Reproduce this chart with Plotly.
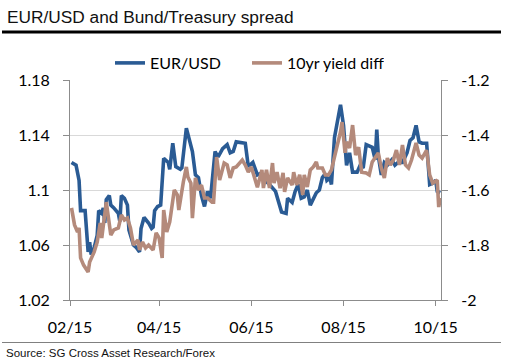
import plotly.graph_objects as go

# ---- data ----
eur_dates = [
    "2015-02-02", "2015-02-05", "2015-02-07", "2015-02-08", "2015-02-11", "2015-02-13",
    "2015-02-14", "2015-02-15", "2015-02-17", "2015-02-19", "2015-02-20", "2015-02-22",
    "2015-02-23", "2015-02-24", "2015-02-25", "2015-02-27", "2015-02-28", "2015-03-02",
    "2015-03-05", "2015-03-06", "2015-03-07", "2015-03-09", "2015-03-11", "2015-03-12",
    "2015-03-15", "2015-03-17", "2015-03-19", "2015-03-20", "2015-03-22", "2015-03-25",
    "2015-03-27", "2015-03-28", "2015-03-29", "2015-03-31", "2015-04-02", "2015-04-04",
    "2015-04-07", "2015-04-08", "2015-04-10", "2015-04-12", "2015-04-15", "2015-04-16",
    "2015-04-19", "2015-04-23", "2015-04-25", "2015-04-27", "2015-04-29", "2015-05-01",
    "2015-05-03", "2015-05-05", "2015-05-08", "2015-05-10", "2015-05-13", "2015-05-16",
    "2015-05-18", "2015-05-20", "2015-05-22", "2015-05-26", "2015-05-28", "2015-05-30",
    "2015-06-02", "2015-06-05", "2015-06-07", "2015-06-10", "2015-06-13", "2015-06-17",
    "2015-06-19", "2015-06-21", "2015-06-24", "2015-06-25", "2015-06-28", "2015-06-30",
    "2015-07-02", "2015-07-04", "2015-07-06", "2015-07-08", "2015-07-10", "2015-07-12",
    "2015-07-14", "2015-07-16", "2015-07-18", "2015-07-20", "2015-07-21", "2015-07-23",
    "2015-07-24", "2015-07-26", "2015-07-28", "2015-07-30", "2015-08-01", "2015-08-02",
    "2015-08-03", "2015-08-05", "2015-08-07", "2015-08-10", "2015-08-12", "2015-08-14",
    "2015-08-16", "2015-08-20", "2015-08-22", "2015-08-23", "2015-08-24", "2015-08-26",
    "2015-08-28", "2015-08-30", "2015-09-02", "2015-09-04", "2015-09-06", "2015-09-09",
    "2015-09-12", "2015-09-14", "2015-09-16", "2015-09-18", "2015-09-20", "2015-09-22",
    "2015-09-25", "2015-09-27", "2015-09-29", "2015-10-01", "2015-10-02", "2015-10-04",
]
eur_usd = [
    1.120, 1.118, 1.107, 1.085, 1.085, 1.055,
    1.062, 1.053, 1.058, 1.067, 1.085, 1.083,
    1.087, 1.076, 1.093, 1.096, 1.089, 1.087,
    1.083, 1.077, 1.096, 1.094, 1.089, 1.071,
    1.060, 1.058, 1.055, 1.072, 1.080, 1.076,
    1.072, 1.073, 1.085, 1.088, 1.089, 1.123,
    1.120, 1.115, 1.134, 1.117, 1.115, 1.116,
    1.145, 1.128, 1.111, 1.109, 1.096, 1.088,
    1.099, 1.094, 1.128, 1.124, 1.130, 1.133,
    1.127, 1.128, 1.135, 1.134, 1.134, 1.117,
    1.120, 1.111, 1.112, 1.107, 1.104, 1.099,
    1.091, 1.084, 1.083, 1.094, 1.091, 1.099,
    1.104, 1.094, 1.095, 1.100, 1.089, 1.093,
    1.098, 1.100, 1.109, 1.112, 1.107, 1.109,
    1.104, 1.138, 1.149, 1.162, 1.147, 1.128,
    1.118, 1.127, 1.113, 1.113, 1.118, 1.116,
    1.133, 1.131, 1.122, 1.144, 1.125, 1.111,
    1.120, 1.118, 1.122, 1.118, 1.120, 1.120,
    1.127, 1.136, 1.138, 1.147, 1.135, 1.134,
    1.134, 1.104, 1.105, 1.107, 1.099, 1.098,
]

yd_dates = [
    "2015-02-02", "2015-02-04", "2015-02-06", "2015-02-07", "2015-02-08", "2015-02-10",
    "2015-02-13", "2015-02-14", "2015-02-17", "2015-02-19", "2015-02-21", "2015-02-22",
    "2015-02-25", "2015-02-27", "2015-02-28", "2015-03-02", "2015-03-05", "2015-03-07",
    "2015-03-09", "2015-03-11", "2015-03-13", "2015-03-15", "2015-03-18", "2015-03-19",
    "2015-03-21", "2015-03-23", "2015-03-25", "2015-03-28", "2015-03-30", "2015-04-01",
    "2015-04-03", "2015-04-04", "2015-04-06", "2015-04-08", "2015-04-11", "2015-04-13",
    "2015-04-14", "2015-04-17", "2015-04-19", "2015-04-20", "2015-04-22", "2015-04-23",
    "2015-04-25", "2015-04-27", "2015-04-29", "2015-05-01", "2015-05-03", "2015-05-06",
    "2015-05-07", "2015-05-09", "2015-05-11", "2015-05-14", "2015-05-16", "2015-05-18",
    "2015-05-20", "2015-05-22", "2015-05-26", "2015-05-28", "2015-05-30", "2015-06-01",
    "2015-06-03", "2015-06-05", "2015-06-08", "2015-06-09", "2015-06-11", "2015-06-13",
    "2015-06-15", "2015-06-16", "2015-06-18", "2015-06-20", "2015-06-22", "2015-06-23",
    "2015-06-25", "2015-06-28", "2015-06-29", "2015-07-01", "2015-07-03", "2015-07-05",
    "2015-07-06", "2015-07-08", "2015-07-10", "2015-07-12", "2015-07-14", "2015-07-15",
    "2015-07-18", "2015-07-20", "2015-07-22", "2015-07-24", "2015-07-26", "2015-07-28",
    "2015-07-30", "2015-07-31", "2015-08-02", "2015-08-03", "2015-08-05", "2015-08-07",
    "2015-08-09", "2015-08-11", "2015-08-13", "2015-08-16", "2015-08-18", "2015-08-20",
    "2015-08-22", "2015-08-24", "2015-08-26", "2015-08-28", "2015-08-30", "2015-09-01",
    "2015-09-03", "2015-09-05", "2015-09-07", "2015-09-09", "2015-09-11", "2015-09-13",
    "2015-09-15", "2015-09-17", "2015-09-18", "2015-09-20", "2015-09-22", "2015-09-25",
    "2015-09-27", "2015-09-29", "2015-10-02", "2015-10-03", "2015-10-04",
]
yield_diff = [
    -1.665, -1.727, -1.753, -1.738, -1.847, -1.873,
    -1.898, -1.862, -1.825, -1.789, -1.720, -1.775,
    -1.644, -1.716, -1.764, -1.745, -1.738, -1.691,
    -1.709, -1.702, -1.738, -1.800, -1.782, -1.818,
    -1.789, -1.811, -1.800, -1.818, -1.756, -1.775,
    -1.847, -1.673, -1.753, -1.716, -1.600, -1.618,
    -1.673, -1.571, -1.516, -1.553, -1.575, -1.702,
    -1.556, -1.600, -1.582, -1.629, -1.629, -1.644,
    -1.644, -1.480, -1.564, -1.502, -1.509, -1.556,
    -1.520, -1.516, -1.491, -1.509, -1.535, -1.516,
    -1.553, -1.590, -1.527, -1.593, -1.527, -1.593,
    -1.502, -1.575, -1.535, -1.593, -1.538, -1.607,
    -1.556, -1.582, -1.535, -1.582, -1.545, -1.618,
    -1.545, -1.589, -1.527, -1.516, -1.498, -1.520,
    -1.520, -1.545, -1.545, -1.527, -1.480, -1.436,
    -1.389, -1.353, -1.465, -1.425, -1.447, -1.364,
    -1.473, -1.444, -1.535, -1.538, -1.545, -1.498,
    -1.480, -1.465, -1.520, -1.556, -1.484, -1.509,
    -1.491, -1.455, -1.509, -1.436, -1.509, -1.520,
    -1.491, -1.455, -1.429, -1.473, -1.484, -1.455,
    -1.545, -1.575, -1.564, -1.662, -1.629,
]

left_ticks = [1.02, 1.06, 1.10, 1.14, 1.18]
left_labels = ["1.02", "1.06", "1.1", "1.14", "1.18"]
right_ticks = [-2.0, -1.8, -1.6, -1.4, -1.2]
right_labels = ["-2", "-1.8", "-1.6", "-1.4", "-1.2"]
x_ticks = ["2015-02-01", "2015-04-01", "2015-06-01", "2015-08-01", "2015-10-01"]
x_labels = ["02/15", "04/15", "06/15", "08/15", "10/15"]

BLUE = "#2a5b94"
BROWN = "#b48a7b"
AXIS = "#8c8c8c"
TICKFONT = dict(family="Lato, Carlito, sans-serif", size=16, color="#000000")

fig = go.Figure()
fig.add_trace(go.Scatter(x=eur_dates, y=eur_usd, name="EUR/USD", mode="lines",
                         line=dict(color=BLUE, width=3.6), yaxis="y"))
fig.add_trace(go.Scatter(x=yd_dates, y=yield_diff, name="10yr yield diff", mode="lines",
                         line=dict(color=BROWN, width=3.6), yaxis="y2"))

fig.update_layout(
    width=511, height=359,
    margin=dict(l=70, r=70, t=80, b=59, autoexpand=False),
    paper_bgcolor="white", plot_bgcolor="white",
    showlegend=True,
    legend=dict(orientation="h", x=(110 - 70) / 371, y=(300 - 63) / 220,
                xanchor="left", yanchor="middle",
                font=dict(family="Lato, sans-serif", size=16, color="#000000"),
                entrywidth=92, entrywidthmode="pixels", itemwidth=30,
                bgcolor="rgba(0,0,0,0)", borderwidth=0, tracegroupgap=0),
    xaxis=dict(type="date", range=["2015-02-01", "2015-10-04 12:00"],
               tickvals=x_ticks, ticktext=x_labels,
               showline=True, linecolor=AXIS, linewidth=1,
               ticks="outside", ticklen=5, tickcolor=AXIS,
               ticklabelstandoff=8,
               showgrid=False, zeroline=False, tickfont=TICKFONT),
    yaxis=dict(range=[1.02, 1.18], tickvals=left_ticks, ticktext=left_labels,
               showline=True, linecolor=AXIS, linewidth=1,
               ticks="outside", ticklen=6, tickcolor=AXIS,
               ticklabelstandoff=10,
               showgrid=True, gridcolor="#d9d9d9", gridwidth=1,
               zeroline=False, tickfont=TICKFONT),
    yaxis2=dict(range=[-2.0, -1.2], tickvals=right_ticks, ticktext=right_labels,
                overlaying="y", side="right",
                showline=True, linecolor=AXIS, linewidth=1,
                ticks="outside", ticklen=6, tickcolor=AXIS,
                ticklabelstandoff=10,
                showgrid=False, zeroline=False, tickfont=TICKFONT),
)

# title, rules and source
fig.add_annotation(text="EUR/USD and Bund/Treasury spread", xref="paper", yref="paper",
                   x=(5 - 70) / 371, y=(300 - 17) / 220, xanchor="left", yanchor="middle",
                   showarrow=False,
                   font=dict(family="Liberation Sans, Arial, sans-serif", size=17.3, color="#111111"))
fig.add_shape(type="line", xref="paper", yref="paper",
              x0=(2 - 70) / 371, x1=(501 - 70) / 371, y0=(300 - 32) / 220, y1=(300 - 32) / 220,
              line=dict(color="#000000", width=3))
fig.add_shape(type="line", xref="paper", yref="paper",
              x0=(2 - 70) / 371, x1=(501 - 70) / 371, y0=(300 - 342.5) / 220, y1=(300 - 342.5) / 220,
              line=dict(color="#808080", width=1))
fig.add_annotation(text="Source: SG Cross Asset Research/Forex", xref="paper", yref="paper",
                   x=(4 - 70) / 371, y=(300 - 353) / 220, xanchor="left", yanchor="middle",
                   showarrow=False,
                   font=dict(family="Liberation Sans, Arial, sans-serif", size=11.5, color="#111111"))

fig.write_html("out.html", config={"displayModeBar": False},
               post_script="document.body.style.margin='0';")
